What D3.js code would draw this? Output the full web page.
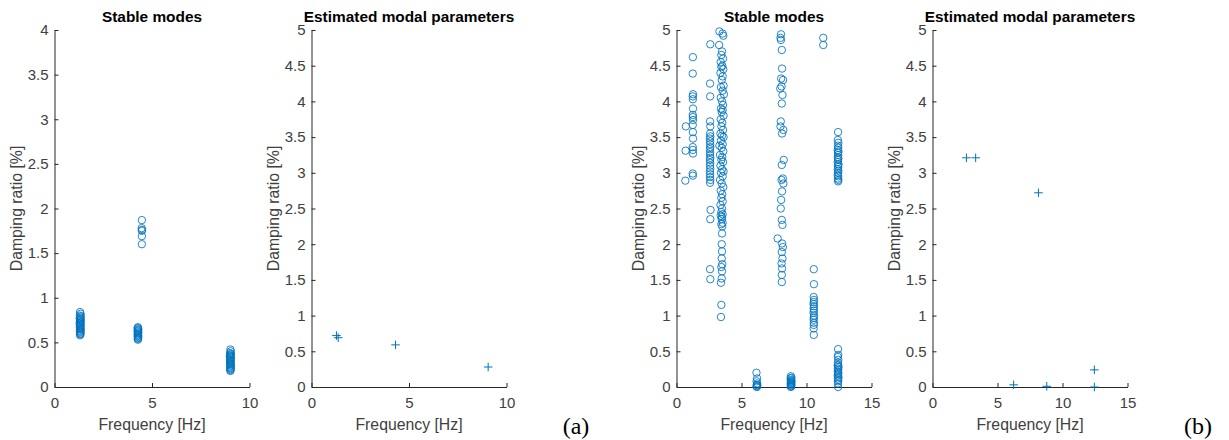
<!DOCTYPE html>
<html>
<head>
<meta charset="utf-8">
<script src="https://cdn.jsdelivr.net/npm/d3@7"></script>
<style>
	body {margin:0; background:#fff;}
	svg text {font-family:"Liberation Sans", Arial, sans-serif;}
</style>
</head>
<body>
<div class="c_fig"></div>
<script>

/*DATA  [frequency Hz, damping %]
------------------------------------------------------
*/

// (a) stable modes
const aStable1 = [[1.31,0.84],[1.34,0.82],[1.30,0.80],[1.35,0.79],[1.32,0.78],[1.29,0.77],[1.34,0.76],[1.31,0.75],
	[1.35,0.74],[1.30,0.73],[1.33,0.72],[1.29,0.71],[1.35,0.70],[1.31,0.69],[1.33,0.68],[1.30,0.67],[1.34,0.66],
	[1.31,0.65],[1.35,0.64],[1.30,0.63],[1.33,0.62],[1.31,0.61],[1.34,0.60],[1.32,0.59],[1.31,0.58]];
const aStable2 = [[4.28,0.67],[4.26,0.66],[4.30,0.65],[4.27,0.64],[4.29,0.63],[4.26,0.62],[4.30,0.61],[4.28,0.60],
	[4.27,0.59],[4.29,0.58],[4.26,0.57],[4.30,0.56],[4.28,0.55],[4.27,0.54],[4.28,0.53]];
const aStable3 = [[4.48,1.87],[4.47,1.78],[4.49,1.76],[4.48,1.75],[4.48,1.69],[4.48,1.60]];
const aStable4 = [[9.02,0.42],[9.04,0.40],[9.00,0.38],[9.05,0.37],[9.02,0.36],[8.99,0.35],[9.04,0.34],[9.01,0.33],
	[9.05,0.32],[9.00,0.31],[9.03,0.30],[9.01,0.29],[9.04,0.28],[9.00,0.27],[9.03,0.26],[9.02,0.25],[9.05,0.24],
	[9.00,0.23],[9.03,0.22],[9.01,0.21],[9.04,0.20],[9.02,0.19],[9.02,0.18]];

// (a) estimated
const aEstimated = [[1.28,0.72],[1.37,0.69],[4.31,0.59],[9.06,0.28]];

// (b) stable modes
const bStable1 = [[0.72,3.65],[0.70,3.31],[0.68,2.89]];
const bStable2 = [[1.26,4.62],[1.25,4.39],[1.27,4.10],[1.25,4.07],[1.26,4.03],[1.27,3.90],[1.25,3.81],[1.26,3.78],
	[1.27,3.74],[1.25,3.67],[1.26,3.57],[1.27,3.48],[1.25,3.36],[1.26,3.32],[1.27,3.27],[1.25,2.99],[1.26,2.96]];
const bStable3 = [[2.60,4.80],[2.58,4.25],[2.59,4.07],[2.58,3.72],[2.60,3.65],[2.58,3.55],[2.60,3.51],[2.57,3.48],
	[2.59,3.44],[2.58,3.40],[2.60,3.36],[2.57,3.33],[2.59,3.29],[2.58,3.25],[2.60,3.21],[2.57,3.18],[2.59,3.14],
	[2.58,3.10],[2.60,3.06],[2.57,3.02],[2.59,2.98],[2.58,2.94],[2.60,2.90],[2.58,2.86],[2.62,2.48],[2.60,2.35],
	[2.58,1.65],[2.60,1.51]];
const bStable4 = [[3.30,4.98],[3.55,4.95],[3.60,4.92],[3.28,4.79],[3.50,4.70],[3.45,4.65],[3.58,4.60],[3.40,4.55],
	[3.52,4.50],[3.45,4.48],[3.60,4.45],[3.38,4.40],[3.55,4.35],[3.48,4.30],[3.62,4.22],[3.42,4.20],[3.55,4.15],
	[3.65,4.10],[3.40,4.05],[3.50,4.00],[3.58,3.95],[3.42,3.90],[3.55,3.88],[3.48,3.85],[3.62,3.80],[3.40,3.75],
	[3.52,3.70],[3.45,3.65],[3.58,3.60],[3.38,3.55],[3.50,3.52],[3.62,3.50],[3.42,3.45],[3.55,3.40],[3.30,3.38],
	[3.48,3.35],[3.60,3.30],[3.35,3.25],[3.52,3.22],[3.45,3.18],[3.58,3.15],[3.38,3.10],[3.50,3.05],[3.62,3.02],
	[3.42,3.00],[3.55,2.95],[3.35,2.90],[3.48,2.85],[3.60,2.80],[3.40,2.75],[3.52,2.70],[3.45,2.65],[3.55,2.60],
	[3.38,2.55],[3.50,2.50],[3.45,2.45],[3.55,2.42],[3.40,2.40],[3.50,2.38],[3.48,2.35],[3.55,2.30],[3.45,2.28],
	[3.52,2.25],[3.50,2.15],[3.48,2.00],[3.50,1.90],[3.48,1.80],[3.52,1.72],[3.45,1.68],[3.50,1.62],[3.48,1.52],
	[3.42,1.46],[3.45,1.15],[3.42,0.98]];
const bStable5 = [[6.15,0.20],[6.20,0.12],[6.16,0.08],[6.21,0.05],[6.18,0.03],[6.22,0.02],[6.15,0.01],[6.19,0.00]];
const bStable6 = [[8.04,4.94],[8.00,4.89],[8.03,4.86],[8.10,4.72],[8.12,4.46],[8.05,4.32],[8.20,4.30],[8.08,4.21],
	[7.98,4.18],[8.15,4.09],[8.10,3.97],[8.02,3.72],[8.00,3.65],[8.22,3.60],[8.12,3.55],[8.25,3.18],[8.10,3.11],
	[8.18,2.92],[8.08,2.90],[8.22,2.85],[8.12,2.74],[8.05,2.62],[8.02,2.50],[8.10,2.34],[8.15,2.27],[7.78,2.08],
	[8.12,2.01],[8.18,1.96],[8.10,1.89],[8.15,1.80],[8.08,1.73],[8.12,1.66],[8.10,1.57],[8.10,1.47]];
const bStable7 = [[8.80,0.15],[8.84,0.13],[8.78,0.12],[8.82,0.10],[8.80,0.09],[8.85,0.08],[8.79,0.07],[8.83,0.06],
	[8.81,0.05],[8.78,0.04],[8.84,0.03],[8.80,0.02],[8.82,0.01],[8.80,0.00]];
const bStable8 = [[10.56,1.65],[10.57,1.44],[10.55,1.26],[10.58,1.22],[10.56,1.19],[10.54,1.16],[10.58,1.13],
	[10.55,1.10],[10.57,1.07],[10.54,1.04],[10.58,1.00],[10.56,0.97],[10.55,0.94],[10.57,0.90],[10.56,0.87],
	[10.55,0.82],[10.56,0.73]];
const bStable9 = [[11.29,4.89],[11.29,4.79]];
const bStable10 = [[12.43,3.57],[12.41,3.46],[12.45,3.42],[12.42,3.38],[12.44,3.35],[12.40,3.32],[12.46,3.30],
	[12.42,3.28],[12.44,3.25],[12.41,3.22],[12.45,3.20],[12.43,3.18],[12.40,3.15],[12.46,3.12],[12.42,3.10],
	[12.44,3.08],[12.41,3.05],[12.45,3.03],[12.43,3.00],[12.40,2.97],[12.44,2.95],[12.42,2.92],[12.45,2.90],[12.43,2.88]];
const bStable11 = [[12.43,0.53],[12.44,0.45],[12.41,0.42],[12.45,0.38],[12.42,0.34],[12.44,0.31],[12.40,0.30],
	[12.46,0.28],[12.42,0.26],[12.44,0.24],[12.41,0.22],[12.45,0.20],[12.43,0.18],[12.40,0.16],[12.46,0.14],
	[12.42,0.12],[12.44,0.10],[12.43,0.08],[12.42,0.05],[12.43,0.00]];

// (b) estimated
const bEstimated = [[2.61,3.21],[3.32,3.21],[8.15,2.72],[6.24,0.03],[8.79,0.01],[12.45,0.24],[12.45,0.00]];

const ticksX10 = [0,5,10];
const ticksX15 = [0,5,10,15];
const ticksY4 = [0,0.5,1,1.5,2,2.5,3,3.5,4];
const ticksY5 = [0,0.5,1,1.5,2,2.5,3,3.5,4,4.5,5];

/*SVG
------------------------------------------------------
*/
let width = 1229;
let height = 440;
const plotTop = 30, plotH = 357, plotW = 195;
const blue = "#0072BD";

let svg = d3.select(".c_fig")
	.append("svg")
	.attr("width", width)
	.attr("height", height);

const panels = [
	{left:54.5, title:"Stable modes", xMax:10, yMax:4, xTicks:ticksX10, yTicks:ticksY4,
		marker:"o", data:[].concat(aStable1, aStable2, aStable3, aStable4)},
	{left:311.5, title:"Estimated modal parameters", xMax:10, yMax:5, xTicks:ticksX10, yTicks:ticksY5,
		marker:"+", data:aEstimated},
	{left:676.5, title:"Stable modes", xMax:15, yMax:5, xTicks:ticksX15, yTicks:ticksY5,
		marker:"o", data:[].concat(bStable1, bStable2, bStable3, bStable4, bStable5, bStable6,
			bStable7, bStable8, bStable9, bStable10, bStable11)},
	{left:932.5, title:"Estimated modal parameters", xMax:15, yMax:5, xTicks:ticksX15, yTicks:ticksY5,
		marker:"+", data:bEstimated}
];

panels.forEach(function(p){
	let g = svg.append("g").attr("transform", "translate(" + p.left + "," + plotTop + ")");

	let x = d3.scaleLinear().domain([0, p.xMax]).range([0, plotW]);
	let y = d3.scaleLinear().domain([0, p.yMax]).range([plotH, 0]);

	let gx = g.append("g")
		.attr("transform", "translate(0," + plotH + ")")
		.call(d3.axisBottom(x).tickValues(p.xTicks).tickSizeInner(-4).tickSizeOuter(0).tickPadding(10));
	let gy = g.append("g")
		.call(d3.axisLeft(y).tickValues(p.yTicks).tickFormat(d3.format("~g")).tickSizeInner(-4).tickSizeOuter(0).tickPadding(6));

	[gx, gy].forEach(function(a){
		a.select(".domain").attr("stroke", "#262626");
		a.selectAll(".tick line").attr("stroke", "#262626");
		a.selectAll(".tick text").attr("fill", "#404040").style("font-size", "15px");
	});

	// titles and labels
	g.append("text")
		.attr("x", plotW/2).attr("y", -8)
		.attr("text-anchor", "middle")
		.style("font-size", "15.4px").style("font-weight", "bold")
		.attr("fill", "#000")
		.text(p.title);

	g.append("text")
		.attr("x", plotW/2).attr("y", plotH + 42.5)
		.attr("text-anchor", "middle")
		.style("font-size", "15.8px")
		.attr("fill", "#404040")
		.text("Frequency [Hz]");

	g.append("text")
		.attr("transform", "translate(-32.5," + plotH/2 + ") rotate(-90)")
		.attr("text-anchor", "middle")
		.style("font-size", "15.8px")
		.attr("fill", "#404040")
		.text("Damping ratio [%]");

	// marks
	if (p.marker === "o") {
		g.append("g").selectAll("circle")
			.data(p.data)
			.enter()
			.append("circle")
			.attr("cx", d => x(d[0]))
			.attr("cy", d => y(d[1]))
			.attr("r", 3.7)
			.attr("fill", "none")
			.attr("stroke", blue)
			.attr("stroke-opacity", 0.85)
			.attr("stroke-width", 1);
	} else {
		g.append("g").selectAll("path")
			.data(p.data)
			.enter()
			.append("path")
			.attr("d", d => "M" + (x(d[0]) - 4.3) + "," + y(d[1]) + "h8.6M" + x(d[0]) + "," + (y(d[1]) - 4.3) + "v8.6")
			.attr("fill", "none")
			.attr("stroke", blue)
			.attr("stroke-width", 1);
	}
});

/*PANEL LETTERS*/
svg.append("text")
	.attr("x", 576).attr("y", 434)
	.attr("text-anchor", "middle")
	.style("font-family", "'Liberation Serif', 'Times New Roman', serif")
	.style("font-size", "24px")
	.attr("fill", "#000")
	.text("(a)");
svg.append("text")
	.attr("x", 1198).attr("y", 434)
	.attr("text-anchor", "middle")
	.style("font-family", "'Liberation Serif', 'Times New Roman', serif")
	.style("font-size", "24px")
	.attr("fill", "#000")
	.text("(b)");

</script>
</body>
</html>
